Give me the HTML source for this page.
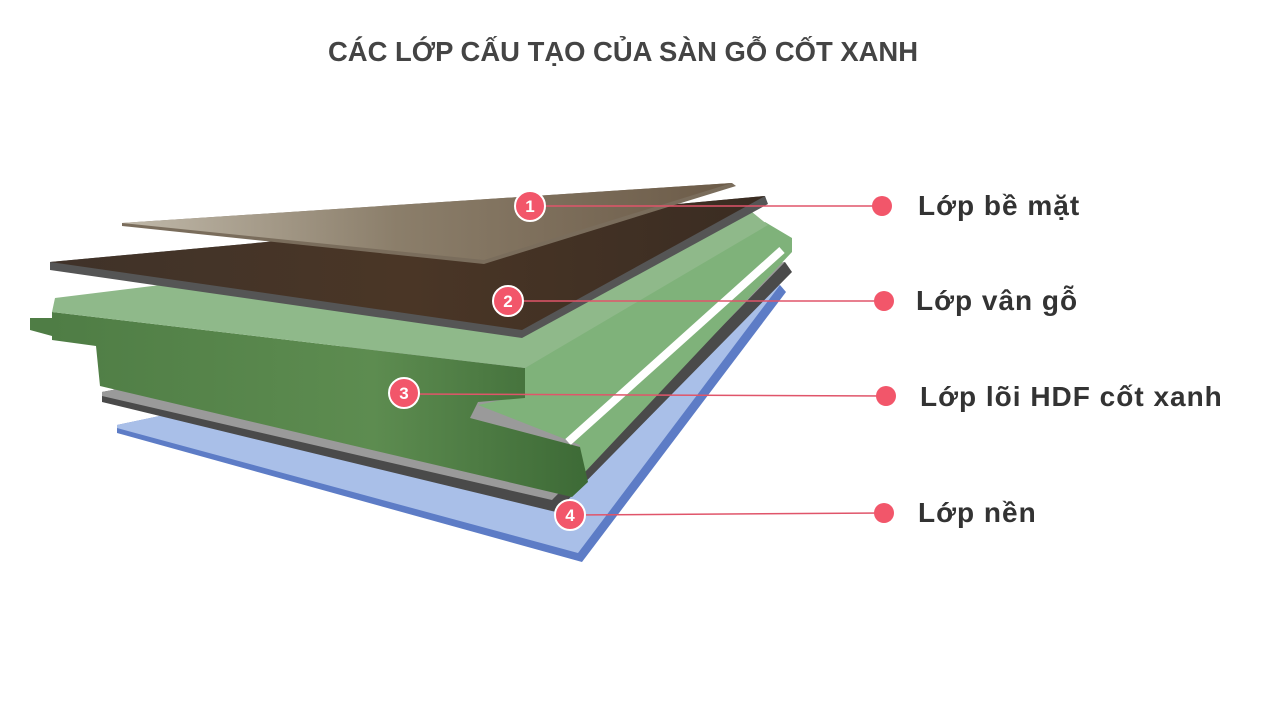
<!DOCTYPE html>
<html><head><meta charset="utf-8"><style>
html,body{margin:0;padding:0;background:#fff;width:1280px;height:720px;overflow:hidden}
svg{display:block}
</style></head><body>
<svg width="1280" height="720" viewBox="0 0 1280 720" xmlns="http://www.w3.org/2000/svg">
<defs>
<linearGradient id="gf" x1="0" y1="0" x2="1" y2="0"><stop offset="0" stop-color="#4f7d45"/><stop offset="0.6" stop-color="#5d8c50"/><stop offset="1" stop-color="#3d6a36"/></linearGradient>
<linearGradient id="wood" x1="0" y1="0" x2="1" y2="0"><stop offset="0" stop-color="#3f3229"/><stop offset="0.5" stop-color="#4a3626"/><stop offset="1" stop-color="#3a2c22"/></linearGradient>
<linearGradient id="surf" x1="0" y1="0" x2="1" y2="0"><stop offset="0" stop-color="#c4bdae"/><stop offset="0.45" stop-color="#8c7f6b"/><stop offset="1" stop-color="#6b5a47"/></linearGradient>
</defs>
<text x="623" y="61" text-anchor="middle" font-family="Liberation Sans, sans-serif" font-weight="bold" font-size="28" fill="#444" textLength="590" lengthAdjust="spacingAndGlyphs">CÁC LỚP CẤU TẠO CỦA SÀN GỖ CỐT XANH</text>

<!-- blue -->
<polygon points="117,425 780,285 786,292 582,562 117,433" fill="#5d7cc6"/>
<polygon points="117,425 780,285 578,553 117,428" fill="#a9bfe8"/>
<!-- gray -->
<polygon points="102,392 785,262 792,272 556,512 102,402" fill="#4a4a4a"/>
<polygon points="102,392 785,262 552,500 102,396" fill="#9a9a9a"/>
<!-- green core -->
<polygon points="525,368 765,222 792,238 792,252 585,472 570,497 580,445 478,405 525,395" fill="#7fb27a"/>
<line x1="568" y1="442" x2="782" y2="250" stroke="#fff" stroke-width="8"/>
<polygon points="30,318 52,318 52,336 30,330" fill="#4f7d45"/>
<polygon points="52,312 525,368 525,398 478,402 470,418 580,447 588,482 572,497 100,386 96,346 52,340" fill="url(#gf)"/>
<polygon points="55,298 752,212 768,225 525,368 52,312" fill="#8fb98a"/>
<!-- dark wood -->
<polygon points="50,262 765,196 768,204 522,338 50,270" fill="#555"/>
<polygon points="50,262 765,196 522,330" fill="url(#wood)"/>
<!-- surface -->
<polygon points="122,223 732,183 736,186 484,264 122,226" fill="#7a6d5c"/>
<polygon points="122,223 732,183 484,260" fill="url(#surf)" opacity="0.95"/>

<g stroke="#e0556a" stroke-width="1.5">
<line x1="530" y1="206" x2="882" y2="206"/>
<line x1="508" y1="301" x2="884" y2="301"/>
<line x1="404" y1="394" x2="886" y2="396"/>
<line x1="570" y1="515" x2="884" y2="513"/>
</g>
<g fill="#f2566a" stroke="#fff" stroke-width="2">
<circle cx="530" cy="206" r="15"/><circle cx="508" cy="301" r="15"/><circle cx="404" cy="393" r="15"/><circle cx="570" cy="515" r="15"/>
</g>
<g font-family="Liberation Sans, sans-serif" font-size="17" font-weight="bold" fill="#fff" text-anchor="middle">
<text x="530" y="212">1</text><text x="508" y="307">2</text><text x="404" y="399">3</text><text x="570" y="521">4</text>
</g>
<g fill="#f2566a"><circle cx="882" cy="206" r="10"/><circle cx="884" cy="301" r="10"/><circle cx="886" cy="396" r="10"/><circle cx="884" cy="513" r="10"/></g>
<g font-family="Liberation Sans, sans-serif" font-size="28" font-weight="bold" fill="#333" letter-spacing="1">
<text x="918" y="215">Lớp bề mặt</text>
<text x="916" y="310">Lớp vân gỗ</text>
<text x="920" y="406">Lớp lõi HDF cốt xanh</text>
<text x="918" y="522">Lớp nền</text>
</g>
</svg>
</body></html>
